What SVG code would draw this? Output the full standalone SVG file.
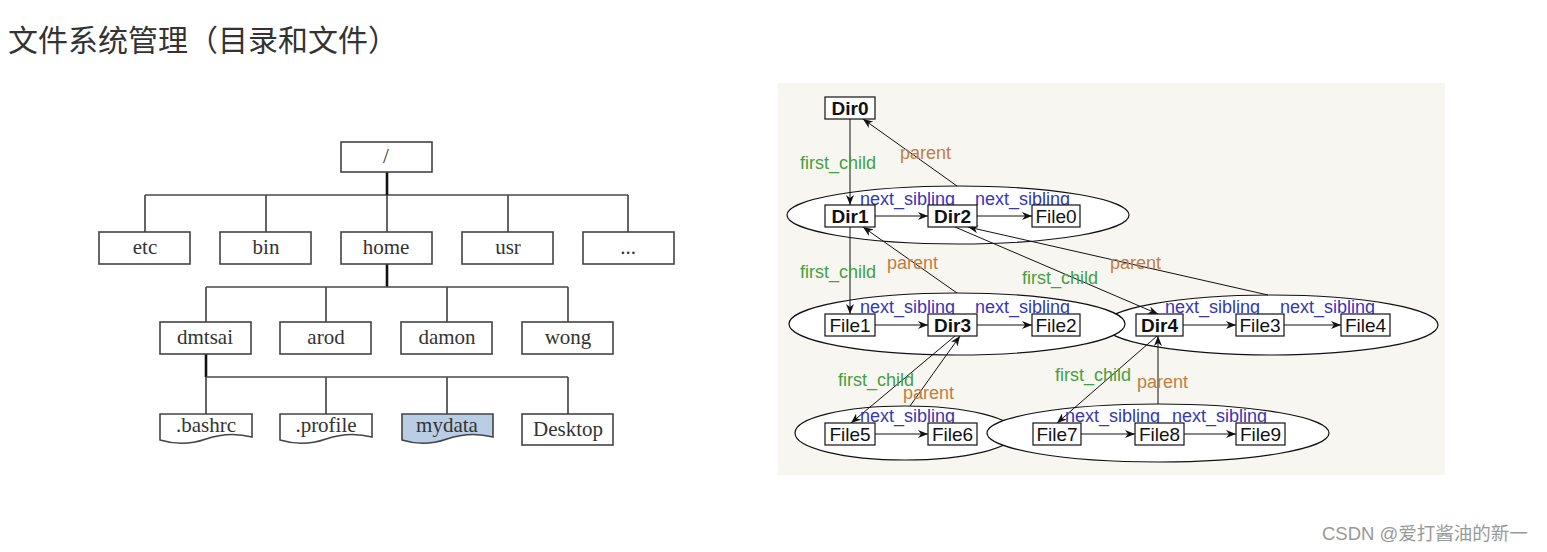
<svg xmlns="http://www.w3.org/2000/svg" width="1547" height="552" viewBox="0 0 1547 552">
<defs>
<style>
.title{font-family:"Noto Sans CJK SC","Noto Sans",sans-serif;font-size:30px;fill:#333}
.tbox{fill:#fff;stroke:#444;stroke-width:1.6}
.ttxt{font-family:"Liberation Serif",serif;font-size:21px;fill:#333;text-anchor:middle}
.tline{stroke:#4a4a4a;stroke-width:1.7;fill:none}
.tthick{stroke:#111;stroke-width:2.6;fill:none}
.gbox{fill:#fff;stroke:#111;stroke-width:1.2}
.gtxt{font-family:"Liberation Sans",Arial,sans-serif;font-size:19px;fill:#111;text-anchor:middle}
.bold{font-weight:bold}
.ell{fill:#fff;stroke:#111;stroke-width:1.2}
.edge{stroke:#111;stroke-width:1;fill:none;marker-end:url(#arr)}
.lbl{font-family:"Liberation Sans",Arial,sans-serif;font-size:18px}
.fc{fill:#44a044}
.pa{fill:#c27c42}
.ns{fill:#3636b8}
.wm{font-family:"Liberation Sans","Noto Sans CJK SC",sans-serif;font-size:18.5px;fill:#999}
</style>
<marker id="arr" markerUnits="userSpaceOnUse" markerWidth="10" markerHeight="8" refX="10" refY="4" orient="auto">
<path d="M0,0 L10,4 L0,8 L3,4 Z" fill="#111"/>
</marker>
</defs>
<rect width="1547" height="552" fill="#fff"/>
<text class="title" x="8" y="51">文件系统管理（目录和文件）</text>

<!-- left tree -->
<g id="tree-connectors">
<path class="tline" d="M145,195 H628 M145,195 V232 M266,195 V232 M508,195 V232 M628,195 V232"/>
<path class="tthick" d="M387,172 V195"/>
<path class="tline" d="M387,195 V232"/>
<path class="tthick" d="M387,264 V287"/>
<path class="tline" d="M206,287 H568 M206,287 V322 M326,287 V322 M447,287 V322 M568,287 V322"/>
<path class="tthick" d="M206,354 V377"/>
<path class="tline" d="M206,377 H568 M206,377 V414 M326,377 V414 M447,377 V414 M568,377 V414"/>
</g>
<g id="t-root"><rect class="tbox" x="341" y="142" width="91" height="30"/><text class="ttxt" x="386" y="163">/</text></g>
<g id="t-etc"><rect class="tbox" x="99" y="232" width="91" height="32"/><text class="ttxt" x="145" y="254">etc</text></g>
<g id="t-bin"><rect class="tbox" x="220" y="232" width="91" height="32"/><text class="ttxt" x="266" y="254">bin</text></g>
<g id="t-home"><rect class="tbox" x="341" y="232" width="91" height="32"/><text class="ttxt" x="386" y="254">home</text></g>
<g id="t-usr"><rect class="tbox" x="462" y="232" width="91" height="32"/><text class="ttxt" x="508" y="254">usr</text></g>
<g id="t-more"><rect class="tbox" x="583" y="232" width="91" height="32"/><text class="ttxt" x="628" y="254">...</text></g>
<g id="t-dmtsai"><rect class="tbox" x="160" y="322" width="91" height="32"/><text class="ttxt" x="205" y="344">dmtsai</text></g>
<g id="t-arod"><rect class="tbox" x="280" y="322" width="91" height="32"/><text class="ttxt" x="326" y="344">arod</text></g>
<g id="t-damon"><rect class="tbox" x="401" y="322" width="91" height="32"/><text class="ttxt" x="447" y="344">damon</text></g>
<g id="t-wong"><rect class="tbox" x="522" y="322" width="91" height="32"/><text class="ttxt" x="568" y="344">wong</text></g>
<g id="t-bashrc"><path class="tbox" d="M160,414 H252 V437 Q229,431 206,439 Q183,447 160,440 Z"/><text class="ttxt" x="206" y="432">.bashrc</text></g>
<g id="t-profile"><path class="tbox" d="M280,414 H372 V437 Q349,431 326,439 Q303,447 280,440 Z"/><text class="ttxt" x="326" y="432">.profile</text></g>
<g id="t-mydata"><path class="tbox" d="M402,414 H493 V437 Q470,431 447,439 Q424,447 402,440 Z" style="fill:#b9cde5"/><text class="ttxt" x="447" y="432">mydata</text></g>
<g id="t-desktop"><rect class="tbox" x="522" y="414" width="91" height="31"/><text class="ttxt" x="568" y="436">Desktop</text></g>

<!-- right graph -->
<rect x="778" y="83" width="667" height="392" fill="#f8f6f0"/>
<g id="clusters">
<ellipse class="ell" cx="958" cy="215" rx="171" ry="29"/>
<ellipse class="ell" cx="1271" cy="325" rx="167" ry="30"/>
<ellipse class="ell" cx="957" cy="324" rx="168" ry="31"/>
<ellipse class="ell" cx="905" cy="433" rx="110" ry="27"/>
<ellipse class="ell" cx="1158" cy="433" rx="171" ry="29"/>
</g>
<g id="connectors">
<path class="edge" d="M850,119 V205"/>
<path class="edge" d="M957,186 L863,119"/>
<path class="edge" d="M875,216 H928"/>
<path class="edge" d="M977,216 H1032"/>
<path class="edge" d="M850,227 V314"/>
<path class="edge" d="M957,293 L863,227"/>
<path class="edge" d="M875,325 H928"/>
<path class="edge" d="M977,325 H1032"/>
<path class="edge" d="M955,227 L1158,314"/>
<path class="edge" d="M1268,295 L968,227"/>
<path class="edge" d="M1183,325 H1236"/>
<path class="edge" d="M1284,325 H1341"/>
<path class="edge" d="M955,336 L851,423"/>
<path class="edge" d="M910,406 L960,336"/>
<path class="edge" d="M1157,336 L1057,423"/>
<path class="edge" d="M1158,404 V336"/>
<path class="edge" d="M875,434 H928"/>
<path class="edge" d="M1081,434 H1135"/>
<path class="edge" d="M1184,434 H1236"/>
</g>
<g id="edge-labels">
<text class="lbl fc" x="800" y="169">first_child</text>
<text class="lbl pa" x="900" y="159">parent</text>
<text class="lbl ns" x="860" y="205">next_sibling</text>
<text class="lbl ns" x="975" y="205">next_sibling</text>
<text class="lbl fc" x="800" y="278">first_child</text>
<text class="lbl pa" x="887" y="269">parent</text>
<text class="lbl ns" x="860" y="313">next_sibling</text>
<text class="lbl ns" x="975" y="313">next_sibling</text>
<text class="lbl fc" x="1022" y="284">first_child</text>
<text class="lbl pa" x="1110" y="269">parent</text>
<text class="lbl ns" x="1165" y="313">next_sibling</text>
<text class="lbl ns" x="1280" y="313">next_sibling</text>
<text class="lbl fc" x="838" y="386">first_child</text>
<text class="lbl pa" x="903" y="399">parent</text>
<text class="lbl ns" x="860" y="422">next_sibling</text>
<text class="lbl fc" x="1055" y="381">first_child</text>
<text class="lbl pa" x="1137" y="388">parent</text>
<text class="lbl ns" x="1065" y="422">next_sibling</text>
<text class="lbl ns" x="1172" y="422">next_sibling</text>
</g>
<g id="Dir0"><rect class="gbox" x="825" y="97" width="50" height="22"/><text class="gtxt bold" x="850" y="115">Dir0</text></g>
<g id="Dir1"><rect class="gbox" x="825" y="205" width="50" height="22"/><text class="gtxt bold" x="850" y="223">Dir1</text></g>
<g id="Dir2"><rect class="gbox" x="928" y="205" width="49" height="22"/><text class="gtxt bold" x="952.5" y="223">Dir2</text></g>
<g id="File0"><rect class="gbox" x="1032" y="205" width="48" height="22"/><text class="gtxt" x="1056" y="223">File0</text></g>
<g id="File1"><rect class="gbox" x="825" y="314" width="50" height="22"/><text class="gtxt" x="850" y="332">File1</text></g>
<g id="Dir3"><rect class="gbox" x="928" y="314" width="49" height="22"/><text class="gtxt bold" x="952.5" y="332">Dir3</text></g>
<g id="File2"><rect class="gbox" x="1032" y="314" width="48" height="22"/><text class="gtxt" x="1056" y="332">File2</text></g>
<g id="Dir4"><rect class="gbox" x="1136" y="314" width="47" height="22"/><text class="gtxt bold" x="1159.5" y="332">Dir4</text></g>
<g id="File3"><rect class="gbox" x="1236" y="314" width="48" height="22"/><text class="gtxt" x="1260" y="332">File3</text></g>
<g id="File4"><rect class="gbox" x="1341" y="314" width="49" height="22"/><text class="gtxt" x="1365.5" y="332">File4</text></g>
<g id="File5"><rect class="gbox" x="825" y="423" width="50" height="22"/><text class="gtxt" x="850" y="441">File5</text></g>
<g id="File6"><rect class="gbox" x="928" y="423" width="49" height="22"/><text class="gtxt" x="952.5" y="441">File6</text></g>
<g id="File7"><rect class="gbox" x="1033" y="423" width="48" height="22"/><text class="gtxt" x="1057" y="441">File7</text></g>
<g id="File8"><rect class="gbox" x="1135" y="423" width="49" height="22"/><text class="gtxt" x="1159.5" y="441">File8</text></g>
<g id="File9"><rect class="gbox" x="1236" y="423" width="49" height="22"/><text class="gtxt" x="1260.5" y="441">File9</text></g>
<text class="wm" x="1322" y="540">CSDN @爱打酱油的新一</text>
</svg>
